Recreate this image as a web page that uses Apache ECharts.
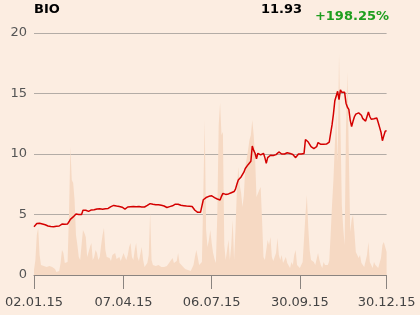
<!DOCTYPE html>
<html><head><meta charset="utf-8">
<script src="https://cdn.jsdelivr.net/npm/echarts@6/dist/echarts.min.js"></script>
<style>html,body{margin:0;padding:0;background:#fcede1;}#c{width:420px;height:315px;}</style>
</head><body><div id="c"></div>
<script>
const tickIndex = [0, 64, 127, 190, 252];
const tickLabels = ['02.01.15', '07.04.15', '06.07.15', '30.09.15', '30.12.15'];
const yTicks = [0, 5, 10, 15, 20];
const price = [
3.99,4.1,4.25,4.32,4.28,4.25,4.22,4.2,4.15,4.1,
4.05,3.99,4.0,4.02,3.98,4.02,4.03,4.01,4.05,4.1,
4.21,4.18,4.2,4.19,4.22,4.4,4.6,4.65,4.8,4.9,
5.05,5.1,5.0,4.98,5.0,5.35,5.43,5.35,5.28,5.26,
5.3,5.38,5.43,5.4,5.44,5.46,5.45,5.48,5.5,5.44,
5.43,5.47,5.54,5.5,5.55,5.65,5.81,5.75,5.72,5.7,
5.68,5.66,5.64,5.6,5.55,5.45,5.5,5.62,5.67,5.64,
5.6,5.66,5.58,5.64,5.62,5.66,5.6,5.62,5.6,5.62,
5.65,5.75,5.88,5.9,5.86,5.84,5.82,5.8,5.79,5.8,
5.78,5.76,5.73,5.7,5.64,5.58,5.56,5.65,5.73,5.72,
5.78,5.85,5.9,5.85,5.8,5.76,5.74,5.73,5.72,5.7,
5.69,5.68,5.67,5.66,5.5,5.35,5.25,5.18,5.17,5.18,
5.2,6.22,6.3,6.4,6.45,6.5,6.55,6.55,6.45,6.39,
6.33,6.28,6.25,6.2,6.5,6.75,6.7,6.66,6.64,6.7,
6.75,6.8,6.86,6.9,7.1,7.5,7.85,7.9,8.1,8.2,
8.5,8.8,8.95,9.12,9.25,9.4,10.66,10.3,10.06,9.61,
10.06,10.0,9.92,9.9,10.06,9.7,9.23,9.7,9.8,9.9,
9.94,9.88,9.9,9.95,10.05,10.17,10.1,10.0,9.94,10.0,
10.05,10.1,10.17,10.05,9.94,9.96,9.9,9.7,9.85,10.0,
9.98,10.0,10.0,10.05,11.2,11.1,10.99,10.8,10.6,10.5,
10.45,10.5,10.6,10.95,10.9,10.8,10.77,10.8,10.83,10.82,
10.9,10.99,11.7,12.4,13.3,14.4,14.45,15.18,14.5,15.3,
15.1,15.05,15.1,14.2,13.86,13.69,12.8,12.26,12.7,13.08,
13.3,13.41,13.4,13.41,13.2,12.92,12.85,12.72,12.8,13.47,
13.1,12.87,12.9,12.92,12.95,12.98,12.6,12.2,11.8,11.1,
11.5,11.88,11.93
];
const volume = [
5,15,40,47,20,10,11,9,11,8,
10,9,11,8,10,6,3,2,4,12,
25,22,12,10,13,60,128,95,92,75,
40,30,18,15,30,45,42,38,18,20,
28,32,15,18,25,22,15,18,30,40,
47,25,18,20,17,14,20,18,22,16,
15,18,14,12,22,18,15,20,28,32,
18,15,25,32,18,14,12,28,15,8,
10,12,20,62,15,10,8,9,7,10,
10,8,9,8,7,9,11,13,15,17,
12,10,14,22,12,10,9,8,6,5,
5,3,4,6,10,18,25,18,10,8,
13,80,155,45,28,35,45,32,22,16,
12,60,150,172,140,143,30,15,25,35,
15,30,55,15,45,85,108,90,82,68,
80,108,110,125,135,140,155,140,118,78,
78,85,88,55,18,15,15,35,30,38,
18,14,12,22,37,20,15,20,12,15,
18,12,10,7,13,10,20,25,10,8,
7,10,13,15,60,80,48,25,15,17,
13,10,8,22,15,10,7,13,10,8,
10,14,40,70,95,130,163,113,221,150,
70,47,30,150,203,120,43,55,60,43,
23,20,17,20,12,10,8,10,20,33,
13,10,7,13,10,8,7,12,17,30,
33,28,23
];
const title = 'BIO';
const lastText = '11.93';
const changeText = '+198.25%';

const chart = echarts.init(document.getElementById('c'), null, {renderer: 'canvas'});
chart.setOption({
  backgroundColor: '#fcede1',
  animation: false,
  grid: {left: 34, right: 33.4, top: 33, bottom: 40},
  xAxis: {
    type: 'value', min: 0, max: 252,
    axisLine: {show: true, lineStyle: {color: '#8a8480', width: 1}},
    axisTick: {show: true, length: 14, lineStyle: {color: '#8a8480'}, customValues: tickIndex},
    axisLabel: {
      customValues: tickIndex, margin: 21, color: '#444', fontSize: 13,
      fontFamily: 'DejaVu Sans',
      formatter: v => tickLabels[tickIndex.indexOf(Math.round(v))] || ''
    },
    splitLine: {show: false}
  },
  yAxis: [{
    type: 'value', min: 0, max: 20, interval: 5,
    axisLine: {show: false}, axisTick: {show: false},
    axisLabel: {color: '#555', fontSize: 13, margin: 7, fontFamily: 'DejaVu Sans'},
    splitLine: {lineStyle: {color: '#b3aca6', width: 1}}
  }, {
    type: 'value', min: 0, max: 242, show: false,
    splitLine: {show: false}
  }],
  graphic: [
    {type: 'text', left: 34, top: 3, style: {text: title, font: 'bold 13px DejaVu Sans', fill: '#000'}},
    {type: 'text', right: 118, top: 3, style: {text: lastText, font: 'bold 13px DejaVu Sans', fill: '#000'}},
    {type: 'text', right: 31, top: 10, style: {text: changeText, font: 'bold 13px DejaVu Sans', fill: '#1e9e1e'}}
  ],
  series: [{
    type: 'line', yAxisIndex: 1, showSymbol: false, silent: true,
    data: volume.map((v, i) => [i, v]),
    lineStyle: {width: 0}, itemStyle: {color: '#f6d9c3'},
    areaStyle: {color: '#f6d9c3', opacity: 1}, z: 1
  }, {
    type: 'line', yAxisIndex: 0, showSymbol: false, silent: true,
    data: price.map((v, i) => [i, v]),
    lineStyle: {color: '#d40000', width: 1.5}, itemStyle: {color: '#d40000'}, z: 3
  }]
});
</script></body></html>
